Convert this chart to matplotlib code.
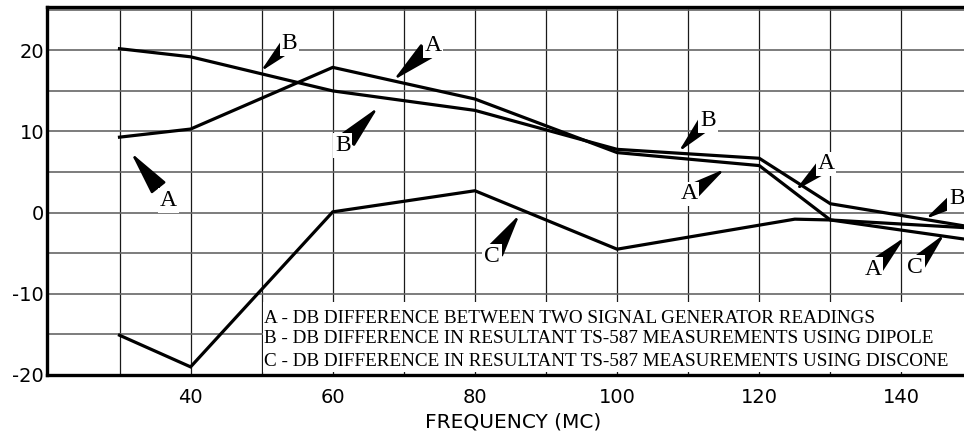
import matplotlib
matplotlib.use('Agg')
import matplotlib.pyplot as plt
from matplotlib.patches import Rectangle

# ---- data ----
freq_a = [30, 40, 60, 80, 100, 120, 130, 150]
db_a = [9.3, 10.3, 17.9, 14.0, 7.4, 5.8, -0.9, -1.9]
freq_b = [30, 40, 60, 80, 100, 120, 130, 150]
db_b = [20.2, 19.2, 15.0, 12.6, 7.8, 6.7, 1.1, -1.8]
freq_c = [30, 40, 60, 80, 100, 125, 130, 150]
db_c = [-15.1, -19.0, 0.1, 2.7, -4.5, -0.8, -0.9, -3.4]

x_ticks = [40, 60, 80, 100, 120, 140]
y_ticks = [-20, -10, 0, 10, 20]
x_grid = [30, 40, 50, 60, 70, 80, 90, 100, 110, 120, 130, 140]
y_grid = [-15, -10, -5, 0, 5, 10, 15, 20, 25]

legend_lines = [
    "A - DB DIFFERENCE BETWEEN TWO SIGNAL GENERATOR READINGS",
    "B - DB DIFFERENCE IN RESULTANT TS-587 MEASUREMENTS USING DIPOLE",
    "C - DB DIFFERENCE IN RESULTANT TS-587 MEASUREMENTS USING DISCONE",
]
x_label = "FREQUENCY (MC)"

# callout labels: letter, text position, arrow tip (data coords)
ann_labels = ['A', 'B', 'A', 'B', 'C', 'B', 'A', 'A', 'B', 'A', 'C']
ann_text_xy = [(36.9, 1.5), (53.9, 20.85), (74.1, 20.6), (61.4, 8.3), (82.4, -5.35),
               (112.8, 11.4), (110.1, 2.3), (129.4, 6.0), (147.8, 1.7), (136.0, -7.0),
               (141.9, -6.7)]
ann_tip_xy = [(31.6, 7.4), (49.8, 17.35), (68.5, 16.3), (66.4, 13.0), (86.3, -0.2),
              (108.6, 7.45), (115.2, 5.4), (125.0, 2.7), (143.3, -0.8), (140.5, -3.0),
              (146.1, -2.6)]

# ---- figure ----
fig = plt.figure(figsize=(9.64, 4.36), dpi=100)
ax = fig.add_axes([47 / 964, 1 - 375 / 436, (964 - 47) / 964, (375 - 7.3) / 436])
ax.set_xlim(19.8, 148.8)
ax.set_ylim(-20, 25.3)

for gx in x_grid:
    ax.axvline(gx, color='#1a1a1a', lw=0.9, zorder=1)
for gy in y_grid:
    ax.axhline(gy, color='#666666', lw=1.2, zorder=1)

# white legend box
ax.add_patch(Rectangle((0.2355, 0.008), 0.78, 0.19, transform=ax.transAxes,
                       facecolor='white', edgecolor='none', zorder=2, clip_on=False))
legend_y = [0.155, 0.098, 0.038]
for txt, yy in zip(legend_lines, legend_y):
    ax.text(0.2366, yy, txt, transform=ax.transAxes, ha='left', va='center',
            family='Liberation Serif', fontsize=13.8, color='black', zorder=5)

for fx, fy in [(freq_a, db_a), (freq_b, db_b), (freq_c, db_c)]:
    ax.plot(fx, fy, color='black', lw=2.3, solid_joinstyle='miter', zorder=3)

for lab, txy, tip in zip(ann_labels, ann_text_xy, ann_tip_xy):
    ax.annotate(lab, xy=tip, xytext=txy, ha='center', va='center',
                family='Liberation Serif', fontsize=17, color='black', zorder=6,
                bbox=dict(boxstyle='square,pad=0.08', fc='white', ec='none'),
                arrowprops=dict(arrowstyle='-|>,head_length=1.6,head_width=0.33',
                                color='black', lw=1.8, shrinkA=0, shrinkB=0))

ax.set_xticks(x_ticks)
ax.set_yticks(y_ticks)
ax.set_xticklabels([str(v) for v in x_ticks], family='DejaVu Sans', fontsize=14)
ax.set_yticklabels([str(v) for v in y_ticks], family='DejaVu Sans', fontsize=14)
ax.tick_params(axis='both', length=0)
ax.tick_params(axis='x', pad=9)
ax.tick_params(axis='y', pad=2)

ax.set_xlabel(x_label, family='DejaVu Sans', fontsize=14.5)
ax.xaxis.set_label_coords(0.508, -0.103)

for side in ['left', 'bottom', 'top']:
    ax.spines[side].set_linewidth(2.4)
    ax.spines[side].set_color('black')
    ax.spines[side].set_zorder(7)
ax.spines['right'].set_visible(False)

fig.savefig('out.png', dpi=100)
